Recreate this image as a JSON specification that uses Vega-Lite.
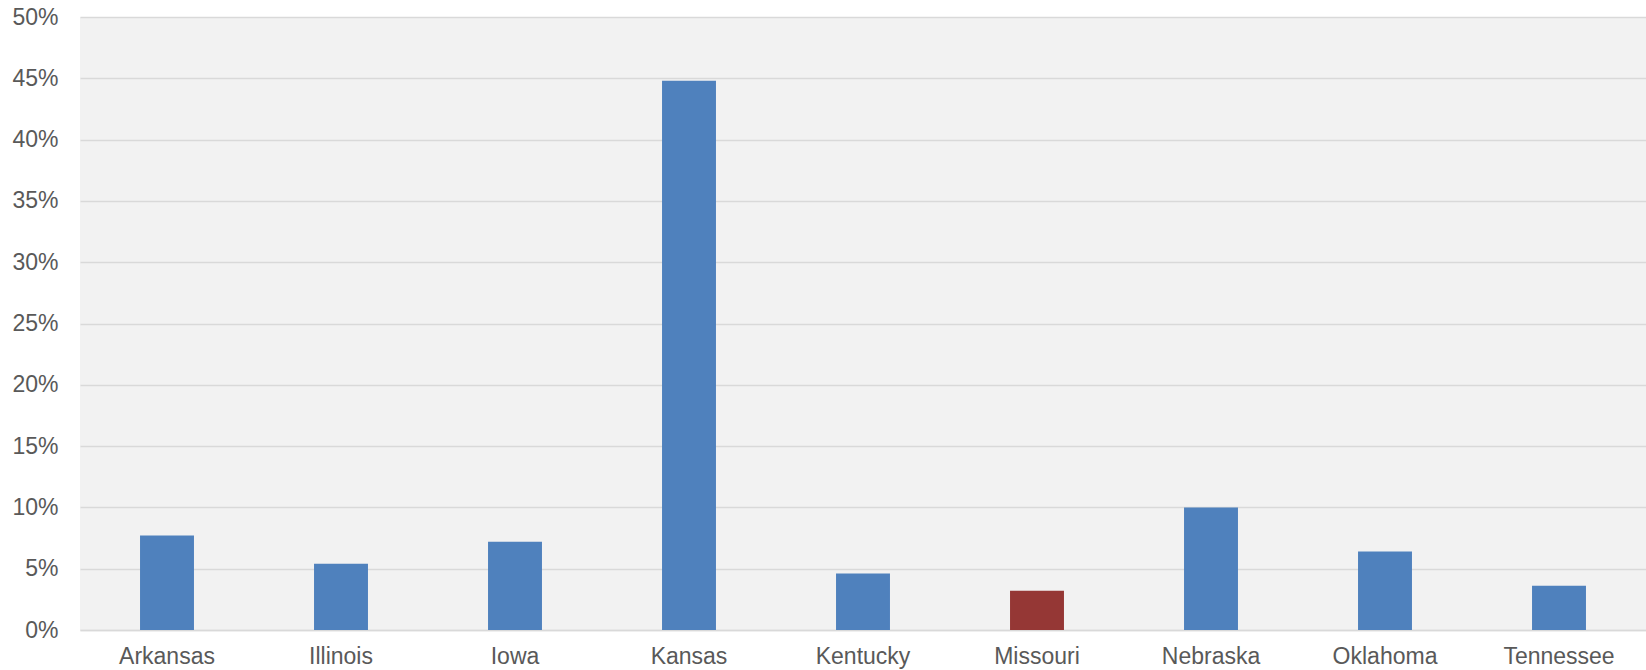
{
  "$schema": "https://vega.github.io/schema/vega-lite/v6.json",
  "width": 1566,
  "height": 613,
  "autosize": {"type": "none"},
  "padding": {"left": 80, "top": 17, "right": 0, "bottom": 40},
  "background": "white",
  "config": {
    "view": {"fill": "#F2F2F2", "stroke": null},
    "font": "Liberation Sans"
  },
  "data": {
    "values": [
      {"state": "Arkansas", "share": 0.077, "highlight": "no"},
      {"state": "Illinois", "share": 0.054, "highlight": "no"},
      {"state": "Iowa", "share": 0.072, "highlight": "no"},
      {"state": "Kansas", "share": 0.448, "highlight": "no"},
      {"state": "Kentucky", "share": 0.046, "highlight": "no"},
      {"state": "Missouri", "share": 0.032, "highlight": "yes"},
      {"state": "Nebraska", "share": 0.100, "highlight": "no"},
      {"state": "Oklahoma", "share": 0.064, "highlight": "no"},
      {"state": "Tennessee", "share": 0.036, "highlight": "no"}
    ]
  },
  "mark": {"type": "bar"},
  "encoding": {
    "x": {
      "field": "state",
      "type": "nominal",
      "sort": null,
      "scale": {"paddingInner": 0.69, "paddingOuter": 0.345},
      "axis": {
        "title": null,
        "labelAngle": 0,
        "labelFontSize": 23,
        "labelColor": "#595959",
        "labelPadding": 15,
        "ticks": false,
        "domainColor": "#D9D9D9",
        "domainWidth": 1.5
      }
    },
    "y": {
      "field": "share",
      "type": "quantitative",
      "scale": {"domain": [0, 0.5], "nice": false},
      "axis": {
        "title": null,
        "format": ".0%",
        "values": [0, 0.05, 0.1, 0.15, 0.2, 0.25, 0.3, 0.35, 0.4, 0.45, 0.5],
        "labelOverlap": false,
        "labelFontSize": 23,
        "labelColor": "#595959",
        "labelPadding": 22,
        "ticks": false,
        "domain": false,
        "gridColor": "#D9D9D9",
        "gridWidth": 1.5
      }
    },
    "color": {
      "field": "highlight",
      "type": "nominal",
      "scale": {"domain": ["no", "yes"], "range": ["#4F81BD", "#953735"]},
      "legend": null
    }
  }
}
